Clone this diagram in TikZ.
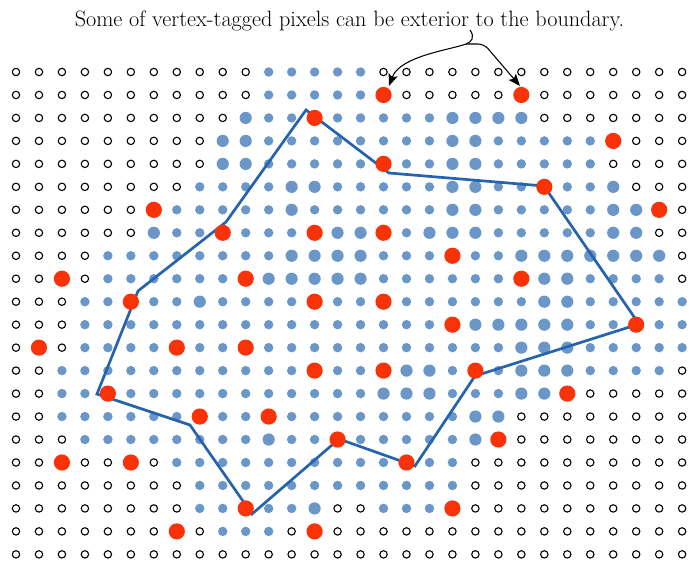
\documentclass[tikz,border=0pt]{standalone}
\usetikzlibrary{arrows.meta}
\definecolor{dotblue}{HTML}{6A97C8}
\definecolor{dotred}{HTML}{FA3208}
\definecolor{lineblue}{HTML}{2563AE}
\newif\ifredpass
\def\gridrow#1#2{\def\rowidx{#1}\def\colidx{0}\gridparse#2\relax}
\def\gridparse#1{\ifx#1\relax\else\griddot#1\pgfmathtruncatemacro\colidx{\colidx+1}\expandafter\gridparse\fi}
\def\griddot#1{%
 \ifredpass
   \ifx#1R\fill[reddot] ({16+22.97*\colidx},{72+22.97*\rowidx}) circle[radius=8.1pt];\fi
 \else
   \ifx#1o\draw[opendot] ({16+22.97*\colidx},{72+22.97*\rowidx}) circle[radius=3.7pt];\fi
   \ifx#1b\fill[bluedot] ({16+22.97*\colidx},{72+22.97*\rowidx}) circle[radius=4.7pt];\fi
   \ifx#1B\fill[bluedot] ({16+22.97*\colidx},{72+22.97*\rowidx}) circle[radius=6.1pt];\fi
 \fi}
\def\allrows{%
\gridrow{0}{ooooooooooobbbbboooooooooooooo}%
\gridrow{1}{ooooooooooobbbbbRoooooRooooooo}%
\gridrow{2}{ooooooooooBbbRbbbbbBBBBooooooo}%
\gridrow{3}{oooooooooBBbbbbbbbbBBbbbbbRooo}%
\gridrow{4}{oooooooooBBbbbbbRbbBBbbbbboooo}%
\gridrow{5}{oooooooobbbbBBbbbbbBBbbRbbBooo}%
\gridrow{6}{ooooooRbbbbbBbbbbbbBBbbbbbBBRo}%
\gridrow{7}{ooooooBbbRbbbRBBRbBBBbbbbbBBoo}%
\gridrow{8}{oooobbbbbbbbBBBBbbbRbbBBBBBBBo}%
\gridrow{9}{ooRobbbbbbRBBBBBbbbbbbRBBbbbbo}%
\gridrow{10}{ooobbRbbBbbbbRbbRbbbbbbBBbbbbb}%
\gridrow{11}{ooobbbbbbbbbbbbbbbbRBBBBBbbRbb}%
\gridrow{12}{oRobbbbRbbRbbbbbbbbbbbBBBbbbbb}%
\gridrow{13}{oobbbbbbbbbbbRbbRBBbRbBBBbbbbo}%
\gridrow{14}{oobbRbbbbbbbbbbbBBBbbbBBRooooo}%
\gridrow{15}{oobbbbbbRbbRbbbbbbbbBBoooooooo}%
\gridrow{16}{ooobbbbbbbbBbbRbbbbbBRoooooooo}%
\gridrow{17}{ooRooRobbbbbbbbbbRbboooooooooo}%
\gridrow{18}{oooooooobbbbbbbbbbbboooooooooo}%
\gridrow{19}{oooooooobbRbbBoobbbRoooooooooo}%
\gridrow{20}{oooooooRobbboRoooooooooooooooo}%
\gridrow{21}{oooooooooooooooooooooooooooooo}%
}
\begin{document}
\begin{tikzpicture}[x=1pt,y=-1pt,
  opendot/.style={draw=black,line width=1.1pt},
  bluedot/.style={fill=dotblue},
  reddot/.style={fill=dotred},
  boundary/.style={draw=lineblue,line width=2.7pt,line join=miter},
  callout/.style={draw=black,line width=1.05pt,-{Stealth[length=12pt,width=9.5pt,inset=2.5pt]}},
  title/.style={font=\fontsize{22.2}{26}\selectfont,anchor=base,inner sep=0pt}]
\useasboundingbox (0,0) rectangle (690,564);
\fill[white] (0,0) rectangle (690,564);
\redpassfalse\allrows
\coordinate (p1) at (306,110);
\coordinate (p2) at (389,173);
\coordinate (p3) at (544,186);
\coordinate (p4) at (639,324);
\coordinate (p5) at (475,376);
\coordinate (p6) at (415,466);
\coordinate (p7) at (339,439);
\coordinate (p8) at (252,514);
\coordinate (p9) at (190,425);
\coordinate (p10) at (97,394);
\coordinate (p11) at (138,291);
\coordinate (p12) at (226,222);
\draw[boundary] (p1) -- (p2) -- (p3) -- (p4) -- (p5) -- (p6) -- (p7) -- (p8) -- (p9) -- (p10) -- (p11) -- (p12) -- cycle;
\redpasstrue\allrows
\node[title] (title) at (349.5,27) {Some of vertex-tagged pixels can be exterior to the boundary.};
\coordinate (s) at (470,30);
\coordinate (j) at (466,44);
\coordinate (bend) at (484,44);
\coordinate (t1) at (389,86);
\coordinate (t2) at (520,86);
\draw[callout] (s) .. controls (475,37) and (472,42) .. (j) .. controls (450,50) and (400,56) .. (t1);
\draw[callout,rounded corners=6pt] (j) -- (bend) -- (t2);
\end{tikzpicture}
\end{document}
